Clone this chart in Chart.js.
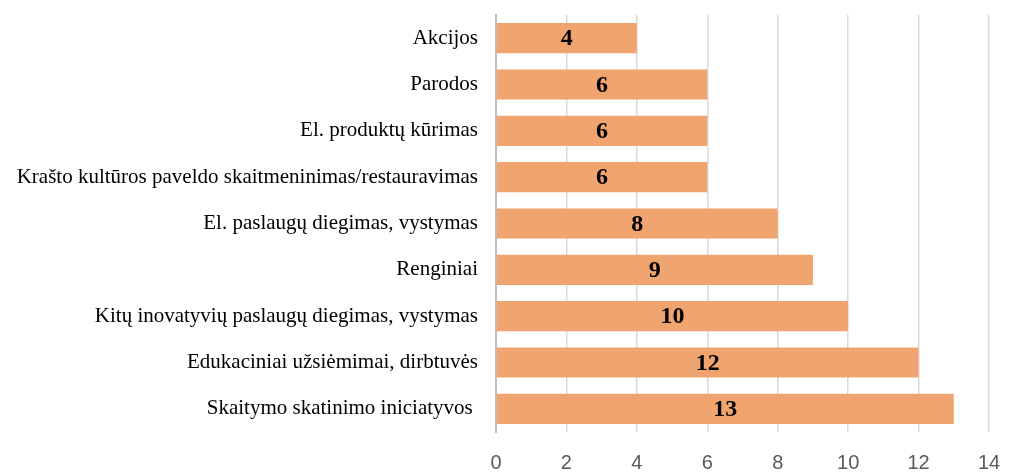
<!DOCTYPE html>
<html>
<head>
<meta charset="utf-8">
<script src="https://cdn.jsdelivr.net/npm/chart.js@4"></script>
<style>
  html, body { margin: 0; padding: 0; background: #fff; }
  #wrap { width: 1009px; height: 472px; position: relative; }
</style>
</head>
<body>
<div id="wrap"><canvas id="chart"></canvas></div>
<script>
// duomenys
const kategorijos = [
  "Akcijos",
  "Parodos",
  "El. produktų kūrimas",
  "Krašto kultūros paveldo skaitmeninimas/restauravimas",
  "El. paslaugų diegimas, vystymas",
  "Renginiai",
  "Kitų inovatyvių paslaugų diegimas, vystymas",
  "Edukaciniai užsiėmimai, dirbtuvės",
  "Skaitymo skatinimo iniciatyvos "
];
const reiksmes = [4, 6, 6, 6, 8, 9, 10, 12, 13];
const xMin = 0, xMax = 14, xStep = 2;

// skaičiai ant stulpelių
const reiksmiuEtiketes = {
  id: 'reiksmiuEtiketes',
  afterDatasetsDraw(chart) {
    const ctx = chart.ctx;
    const meta = chart.getDatasetMeta(0);
    ctx.save();
    ctx.font = 'bold 24px "Liberation Serif", "Times New Roman", serif';
    ctx.fillStyle = '#000';
    ctx.textAlign = 'center';
    ctx.textBaseline = 'middle';
    meta.data.forEach((bar, i) => {
      const cx = (bar.x + bar.base) / 2;
      ctx.fillText(String(reiksmes[i]), cx, bar.y + 1);
    });
    ctx.restore();
  }
};

new Chart(document.getElementById('chart'), {
  type: 'bar',
  plugins: [reiksmiuEtiketes],
  data: {
    labels: kategorijos,
    datasets: [{
      data: reiksmes,
      backgroundColor: '#F0A46F',
      barPercentage: 0.65,
      categoryPercentage: 1
    }]
  },
  options: {
    indexAxis: 'y',
    responsive: true,
    maintainAspectRatio: false,
    animation: false,
    layout: { padding: { top: 15, right: 20, bottom: 0, left: 0 } },
    plugins: { legend: { display: false }, tooltip: { enabled: false } },
    scales: {
      x: {
        min: xMin, max: xMax,
        ticks: {
          stepSize: xStep,
          color: '#595959',
          padding: 19,
          font: { family: '"Liberation Sans", Arial, sans-serif', size: 20 }
        },
        grid: { color: '#d9d9d9', lineWidth: 1.5, drawTicks: false },
        border: { display: false },
        afterFit: s => { s.height = 40; s.paddingLeft = 0; s.paddingRight = 0; }
      },
      y: {
        ticks: {
          color: '#000',
          padding: 18,
          font: { family: '"Liberation Serif", "Times New Roman", serif', size: 21 }
        },
        grid: { display: false, drawTicks: false },
        border: { color: '#bfbfbf', width: 2 },
        afterFit: s => { s.width = 496; s.paddingTop = 0; s.paddingBottom = 0; }
      }
    }
  }
});
</script>
</body>
</html>
